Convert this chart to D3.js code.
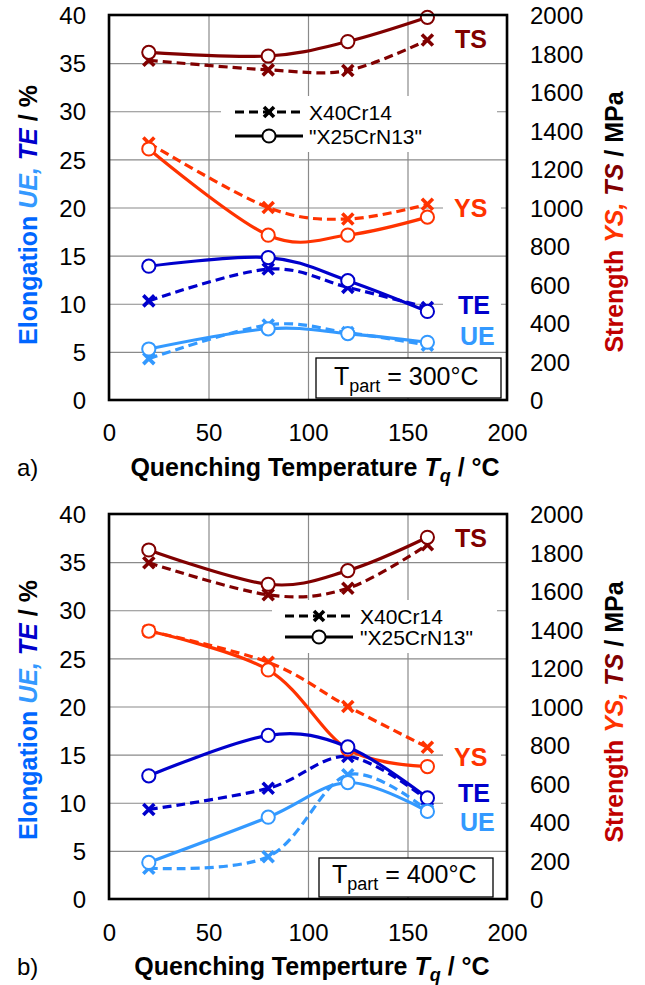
<!DOCTYPE html>
<html><head><meta charset="utf-8">
<script src="https://cdn.jsdelivr.net/npm/d3@7"></script>
<style>body{margin:0;background:#fff;} svg{display:block;font-family:"Liberation Sans",Arial,sans-serif;}</style>
</head><body>
<svg id="chart" width="645" height="985"></svg>
<script>
// ---- data ----
const quenchTemps = [20, 80, 120, 160];
const xTicks = [0, 50, 100, 150, 200];
const elongTicks = [0, 5, 10, 15, 20, 25, 30, 35, 40];
const strengthTicks = [0, 200, 400, 600, 800, 1000, 1200, 1400, 1600, 1800, 2000];
const materials = ["X40Cr14", "\"X25CrN13\""];

// Panel a) T_part = 300°C
const tsA_X40 = [1765, 1715, 1712, 1870];
const tsA_X25 = [1806, 1787, 1862, 1988];
const ysA_X40 = [1335, 1000, 940, 1017];
const ysA_X25 = [1304, 856, 857, 950];
const teA_X40 = [10.3, 13.6, 11.7, 9.6];
const teA_X25 = [13.9, 14.8, 12.4, 9.2];
const ueA_X40 = [4.3, 7.8, 7.0, 5.7];
const ueA_X25 = [5.3, 7.4, 6.9, 6.0];

// Panel b) T_part = 400°C
const tsB_X40 = [1747, 1580, 1614, 1840];
const tsB_X25 = [1813, 1635, 1706, 1879];
const ysB_X40 = [1392, 1230, 1000, 788];
const ysB_X25 = [1392, 1190, 778, 688];
const teB_X40 = [9.3, 11.5, 14.8, 10.3];
const teB_X25 = [12.8, 17.0, 15.8, 10.5];
const ueB_X40 = [3.2, 4.4, 12.9, 9.2];
const ueB_X25 = [3.8, 8.5, 12.1, 9.1];

const COL = {TS:"#800000", YS:"#FF3300", TE:"#0000CC", UE:"#3399FF"};

const svg = d3.select("#chart");
const FONT = "'Liberation Sans', Arial, sans-serif";

function drawPanel(cfg){
  const g = svg.append("g");
  const x = d3.scaleLinear().domain([0,200]).range([109,507]);
  const yL = d3.scaleLinear().domain([0,40]).range([cfg.bottom, cfg.top]);
  const yR = d3.scaleLinear().domain([0,2000]).range([cfg.bottom, cfg.top]);

  // gridlines
  const gx = g.append("g").attr("transform",`translate(0,${cfg.bottom})`)
    .call(d3.axisBottom(x).tickValues(xTicks).tickSize(-(cfg.bottom-cfg.top)).tickFormat(""));
  gx.select(".domain").remove();
  gx.selectAll("line").attr("stroke","#8a8a8a").attr("stroke-width",1.2);
  const gy = g.append("g").attr("transform",`translate(109,0)`)
    .call(d3.axisLeft(yL).tickValues(elongTicks).tickSize(-(507-109)).tickFormat(""));
  gy.select(".domain").remove();
  gy.selectAll("line").attr("stroke","#8a8a8a").attr("stroke-width",1.2);

  // tick labels
  const ax = g.append("g").attr("transform",`translate(0,${cfg.bottom})`)
    .call(d3.axisBottom(x).tickValues(xTicks).tickSize(0).tickPadding(0).tickFormat(d3.format("d")));
  ax.select(".domain").remove();
  ax.selectAll("text").attr("font-size",24).attr("font-family",FONT).attr("fill","#000")
    .attr("y", cfg.xTickBase - cfg.bottom).attr("dy",null);
  const al = g.append("g").attr("transform",`translate(86,0)`)
    .call(d3.axisLeft(yL).tickValues(elongTicks).tickSize(0).tickPadding(0).tickFormat(d3.format("d")));
  al.select(".domain").remove();
  al.selectAll("text").attr("font-size",24).attr("font-family",FONT).attr("fill","#000").attr("x",0).attr("dy","0.36em");
  const ar = g.append("g").attr("transform",`translate(530,0)`)
    .call(d3.axisRight(yR).tickValues(strengthTicks).tickSize(0).tickPadding(0).tickFormat(d3.format("d")));
  ar.select(".domain").remove();
  ar.selectAll("text").attr("font-size",24).attr("font-family",FONT).attr("fill","#000").attr("x",0).attr("dy","0.36em");

  // series label backgrounds
  cfg.labels.forEach(l=>{
    g.append("rect").attr("x",443).attr("y",l.y-14).attr("width",58).attr("height",28).attr("fill","#fff");
  });
  // legend background
  g.append("rect").attr("x",cfg.leg.x0).attr("y",cfg.leg.y1-16).attr("width",cfg.leg.x1-cfg.leg.x0)
    .attr("height",(cfg.leg.y2-cfg.leg.y1)+32).attr("fill","#fff");

  // lines
  const curve = d3.curveCardinal.tension(0);
  const series = cfg.series;
  function line(sc){ return d3.line().x((d,i)=>x(quenchTemps[i])).y(d=>sc(d)).curve(curve); }
  const xMark = s => `M${-s},${-s}L${s},${s}M${-s},${s}L${s},${-s}`;
  // dashed (X40Cr14) first, then solid ("X25CrN13")
  ["X40","X25"].forEach(mat=>{
    series.filter(s=>s.mat===mat).forEach(s=>{
      const sc = s.axis==="R" ? yR : yL;
      g.append("path").datum(s.values).attr("d",line(sc)).attr("fill","none")
        .attr("stroke",COL[s.key]).attr("stroke-width",3.2)
        .attr("stroke-dasharray", mat==="X40" ? "9,5" : null);
      if(mat==="X40"){
        g.selectAll(null).data(s.values).enter().append("path")
          .attr("transform",(d,i)=>`translate(${x(quenchTemps[i])},${sc(d)})`)
          .attr("d",xMark(5.5)).attr("stroke",COL[s.key]).attr("stroke-width",3.6).attr("fill","none");
      } else {
        g.selectAll(null).data(s.values).enter().append("circle")
          .attr("cx",(d,i)=>x(quenchTemps[i])).attr("cy",d=>sc(d)).attr("r",6.6)
          .attr("fill","#fff").attr("stroke",COL[s.key]).attr("stroke-width",2);
      }
    });
  });

  // series labels text
  cfg.labels.forEach(l=>{
    g.append("text").attr("x",l.x).attr("y",l.y).attr("dy","0.36em").attr("font-size",25)
      .attr("font-weight","bold").attr("font-family",FONT).attr("fill",COL[l.key]).text(l.key);
  });

  // legend
  const leg = cfg.leg;
  [[leg.y1,"X40"],[leg.y2,"X25"]].forEach(([yy,mat],i)=>{
    g.append("line").attr("x1",leg.lx0).attr("x2",leg.lx1).attr("y1",yy).attr("y2",yy)
      .attr("stroke","#000").attr("stroke-width",3.2).attr("stroke-dasharray", mat==="X40"?"9,5":null);
    const mx = (leg.lx0+leg.lx1)/2;
    if(mat==="X40"){
      g.append("path").attr("transform",`translate(${mx},${yy})`).attr("d",xMark(5)).attr("stroke","#000").attr("stroke-width",3.6);
    } else {
      g.append("circle").attr("cx",mx).attr("cy",yy).attr("r",6.6).attr("fill","#fff").attr("stroke","#000").attr("stroke-width",2);
    }
    g.append("text").attr("x",leg.tx).attr("y",yy).attr("dy","0.36em").attr("font-size",21)
      .attr("font-family",FONT).attr("fill","#000").text(materials[i]);
  });

  // frame
  g.append("rect").attr("x",109).attr("y",cfg.top).attr("width",507-109).attr("height",cfg.bottom-cfg.top)
    .attr("fill","none").attr("stroke","#000").attr("stroke-width",2.6);

  // T_part box
  const b = cfg.box;
  g.append("rect").attr("x",b.x0).attr("y",b.y0).attr("width",b.x1-b.x0).attr("height",b.y1-b.y0)
    .attr("fill","#fff").attr("stroke","#000").attr("stroke-width",1.3);
  const bt = g.append("text").attr("x",b.tx).attr("y",b.base).attr("font-size",25).attr("font-family",FONT).attr("fill","#000");
  bt.append("tspan").text("T");
  bt.append("tspan").attr("font-size",18).attr("dy",7).text("part");
  bt.append("tspan").attr("dy",-7).text(" = " + cfg.tpart + "°C");

  // axis titles
  const lt = g.append("text").attr("transform",`translate(37,${cfg.lTitleY}) rotate(-90)`).attr("text-anchor","middle")
    .attr("font-size",25).attr("font-weight","bold").attr("font-family",FONT);
  lt.append("tspan").attr("fill","#0066FF").text("Elongation ");
  lt.append("tspan").attr("fill","#3399FF").attr("font-style","italic").text("UE, ");
  lt.append("tspan").attr("fill","#0000CC").attr("font-style","italic").text("TE");
  lt.append("tspan").attr("fill","#000").text(" / %");

  const rt = g.append("text").attr("transform",`translate(623,${cfg.rTitleY}) rotate(-90)`).attr("text-anchor","middle")
    .attr("font-size",25).attr("font-weight","bold").attr("font-family",FONT);
  rt.append("tspan").attr("fill","#C00000").text("Strength ");
  rt.append("tspan").attr("fill","#FF3300").attr("font-style","italic").text("YS, ");
  rt.append("tspan").attr("fill","#800000").attr("font-style","italic").text("TS");
  rt.append("tspan").attr("fill","#000").text(" / MPa");

  const xt = g.append("text").attr("x",cfg.xTitleX).attr("y",cfg.xTitleBase).attr("text-anchor","middle")
    .attr("font-size",25).attr("font-weight","bold").attr("font-family",FONT).attr("fill","#000");
  xt.append("tspan").text(cfg.xTitle + " ");
  xt.append("tspan").attr("font-style","italic").text("T");
  xt.append("tspan").attr("font-style","italic").attr("font-size",18).attr("dy",6).text("q");
  xt.append("tspan").attr("dy",-6).text(" / °C");

  g.append("text").attr("x",17).attr("y",cfg.xTitleBase).attr("font-size",24).attr("font-family",FONT)
    .attr("fill","#000").text(cfg.panel);
}

drawPanel({
  top:15, bottom:400, xTickBase:441, xTitleBase:476, xTitleX:315, panel:"a)",
  xTitle:"Quenching Temperature", tpart:300, lTitleY:215, rTitleY:222,
  series:[
    {key:"TS",axis:"R",mat:"X40",values:tsA_X40},{key:"TS",axis:"R",mat:"X25",values:tsA_X25},
    {key:"YS",axis:"R",mat:"X40",values:ysA_X40},{key:"YS",axis:"R",mat:"X25",values:ysA_X25},
    {key:"TE",axis:"L",mat:"X40",values:teA_X40},{key:"TE",axis:"L",mat:"X25",values:teA_X25},
    {key:"UE",axis:"L",mat:"X40",values:ueA_X40},{key:"UE",axis:"L",mat:"X25",values:ueA_X25}],
  labels:[{key:"TS",x:455,y:39},{key:"YS",x:454,y:208},{key:"TE",x:458,y:305},{key:"UE",x:460,y:336}],
  leg:{x0:221,x1:497,y1:112,y2:136,lx0:235,lx1:303,tx:309},
  box:{x0:316,x1:501,y0:358,y1:398,tx:334,base:385}
});
drawPanel({
  top:514, bottom:899, xTickBase:941, xTitleBase:975, xTitleX:312, panel:"b)",
  xTitle:"Quenching Temperture", tpart:400, lTitleY:710, rTitleY:712,
  series:[
    {key:"TS",axis:"R",mat:"X40",values:tsB_X40},{key:"TS",axis:"R",mat:"X25",values:tsB_X25},
    {key:"YS",axis:"R",mat:"X40",values:ysB_X40},{key:"YS",axis:"R",mat:"X25",values:ysB_X25},
    {key:"TE",axis:"L",mat:"X40",values:teB_X40},{key:"TE",axis:"L",mat:"X25",values:teB_X25},
    {key:"UE",axis:"L",mat:"X40",values:ueB_X40},{key:"UE",axis:"L",mat:"X25",values:ueB_X25}],
  labels:[{key:"TS",x:455,y:538},{key:"YS",x:454,y:757},{key:"TE",x:458,y:793},{key:"UE",x:460,y:822}],
  leg:{x0:272,x1:497,y1:616,y2:637,lx0:285,lx1:353,tx:360},
  box:{x0:319,x1:493,y0:858,y1:897,tx:332,base:883}
});
</script>
</body></html>
